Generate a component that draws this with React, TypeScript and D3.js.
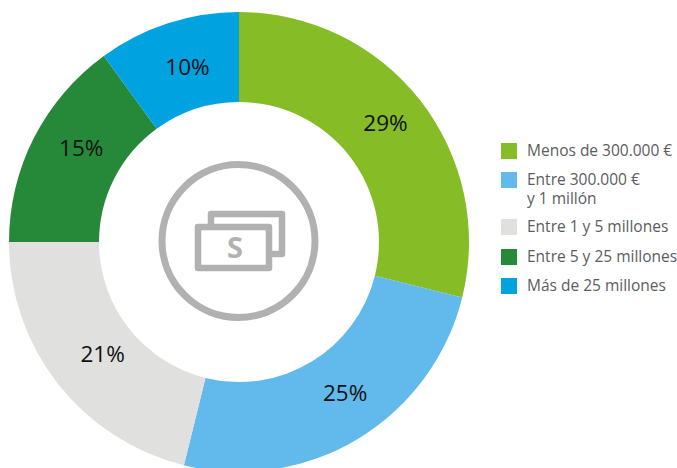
import React from 'react';
import * as d3 from 'd3';

const categories = ['Menos de 300.000 €', 'Entre 300.000 €|y 1 millón', 'Entre 1 y 5 millones', 'Entre 5 y 25 millones', 'Más de 25 millones'];
const values = [29, 25, 21, 15, 10];
// slices are drawn from unrounded shares, the labels show the rounded ones
const shares = [28.87, 24.98, 21.15, 15, 10];
const colors = ['#86bc25', '#62b9eb', '#e0e0de', '#26893a', '#00a3e0'];
const legendY = [143, 172, 219, 249, 278];
// labels sit by hand in the original, not on the centroid
const labelNudge = [[0, -5], [10, -8], [10, -3], [8, -10], [6, 2]];

const width = 677;
const height = 468;
const cx = 239;
const cy = 242;

const pie = d3.pie<number>().sort(null);
const arc = d3.arc<d3.PieArcDatum<number>>().innerRadius(140).outerRadius(230);
const labelArc = d3.arc<d3.PieArcDatum<number>>().innerRadius(186).outerRadius(186);

const iconGray = '#b1b1b1';

const MoneyIcon = () => (
  <g fill="none" stroke={iconGray} strokeWidth={6.5} strokeLinejoin="round">
    <circle cx={238.5} cy={241} r={76.5} strokeWidth={7} />
    <rect x={198} y={227} width={71} height={41} />
    <path d="M211 226 V214 H282 V254 H270" />
    <text x={235} y={258} textAnchor="middle" fontFamily="'Open Sans'" fontWeight={700} fontSize={29} fill={iconGray} stroke="none">S</text>
  </g>
);

export default function App() {
  const slices = pie(shares);
  const color = d3.scaleOrdinal<number, string>().domain(d3.range(values.length)).range(colors);

  return (
    <svg width={width} height={height} style={{ position: 'absolute', left: 0, top: 0 }}>
      <g transform={`translate(${cx},${cy})`}>
        {slices.map((d, i) => (
          <path key={i} d={arc(d) ?? ''} fill={color(i)} />
        ))}
        {slices.map((d, i) => {
          const [x, y] = labelArc.centroid(d);
          return (
            <text key={i} x={x + labelNudge[i][0]} y={y + labelNudge[i][1]} dy="0.36em" textAnchor="middle" fontFamily="'Open Sans'" fontSize={22.5} fill="#111">
              {values[i]}%
            </text>
          );
        })}
      </g>
      <MoneyIcon />
      {categories.map((c, i) => (
        <g key={c} transform={`translate(501,${legendY[i]})`}>
          <rect width={16} height={16} fill={colors[i]} />
          {c.split('|').map((line, j) => (
            <text key={j} x={26} y={13.4 + j * 19} fontFamily="'Open Sans'" fontSize={15.5} fill="#5a5d60">
              {line}
            </text>
          ))}
        </g>
      ))}
    </svg>
  );
}
